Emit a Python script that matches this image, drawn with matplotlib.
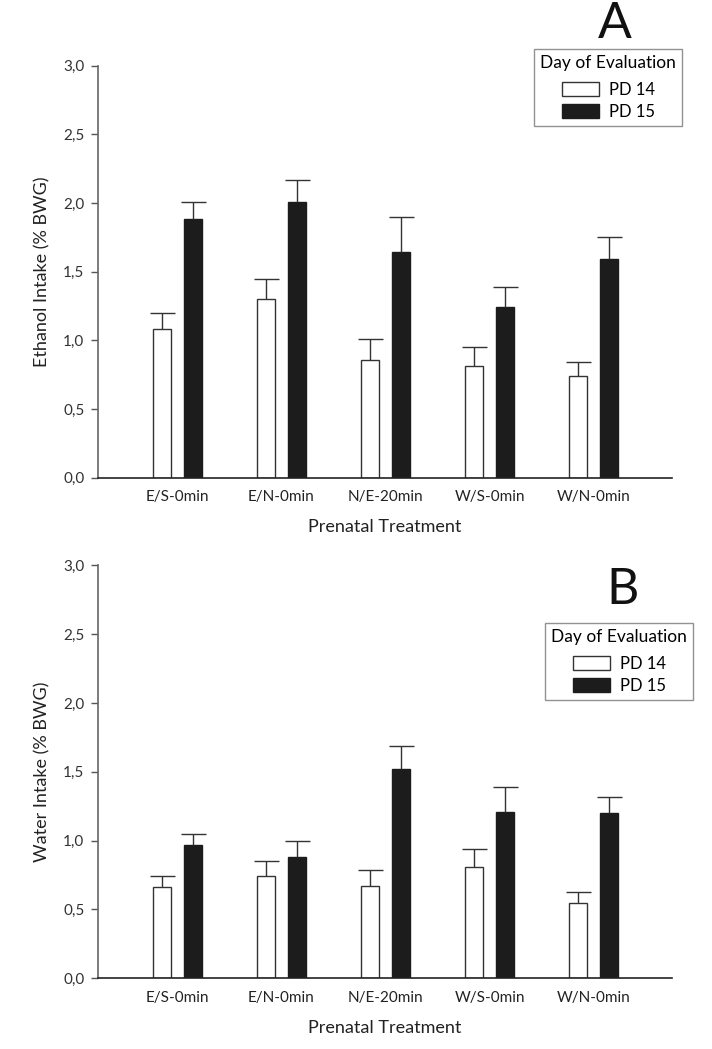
import numpy as np
import matplotlib
matplotlib.use("Agg")
import matplotlib.pyplot as plt
from matplotlib.patches import Patch
from matplotlib.ticker import FuncFormatter

plt.rcParams['font.family'] = ['Lato', 'DejaVu Sans']

groups = ["E/S-0min", "E/N-0min", "N/E-20min", "W/S-0min", "W/N-0min"]

# panel A: ethanol intake
eth_pd14 = [1.08, 1.30, 0.86, 0.81, 0.74]
eth_pd14_err = [0.12, 0.15, 0.15, 0.14, 0.10]
eth_pd15 = [1.88, 2.01, 1.64, 1.24, 1.59]
eth_pd15_err = [0.13, 0.16, 0.26, 0.15, 0.16]

# panel B: water intake
wat_pd14 = [0.66, 0.74, 0.67, 0.81, 0.55]
wat_pd14_err = [0.08, 0.11, 0.12, 0.13, 0.08]
wat_pd15 = [0.97, 0.88, 1.52, 1.21, 1.20]
wat_pd15_err = [0.08, 0.12, 0.17, 0.18, 0.12]

yticks = [0.0, 0.5, 1.0, 1.5, 2.0, 2.5, 3.0]


def hide_low_caps(bars, vals):
    # only the upper half of each error bar is shown, drop the cap at the bar top
    for cl in bars.errorbar.lines[1]:
        if np.allclose(cl.get_ydata(), vals):
            cl.set_visible(False)


def draw_panel(ax, v14, e14, v15, e15, ylabel):
    x = np.arange(len(groups))
    w = 0.178
    off = 0.149
    b14 = ax.bar(x - off, v14, w, color="white", edgecolor="#333333", linewidth=1.0,
                 yerr=[np.zeros(len(e14)), e14], capsize=9,
                 error_kw=dict(ecolor="#333333", elinewidth=1.0, capthick=1.0))
    b15 = ax.bar(x + off, v15, w, color="#1c1c1c", edgecolor="#1c1c1c", linewidth=1.0,
                 yerr=[np.zeros(len(e15)), e15], capsize=9,
                 error_kw=dict(ecolor="#333333", elinewidth=1.0, capthick=1.0))
    hide_low_caps(b14, v14)
    hide_low_caps(b15, v15)
    ax.set_xlim(-0.76, 4.75)
    ax.set_ylim(0, 3.0)
    ax.set_yticks(yticks)
    ax.yaxis.set_major_formatter(FuncFormatter(lambda v, p: ("%.1f" % v).replace(".", ",")))
    ax.set_xticks(x)
    ax.set_xticklabels(groups)
    ax.tick_params(axis="x", length=0, pad=9, labelsize=11, colors="#222222")
    ax.tick_params(axis="y", length=5, width=1.0, pad=5, labelsize=11,
                   colors="#555555", labelcolor="#333333", direction="out")
    for s in ["top", "right"]:
        ax.spines[s].set_visible(False)
    ax.spines["left"].set_color("#666666")
    ax.spines["left"].set_linewidth(1.2)
    ax.spines["bottom"].set_color("#222222")
    ax.spines["bottom"].set_linewidth(1.2)
    ax.set_ylabel(ylabel, fontsize=13, color="#222222", labelpad=9)
    ax.set_xlabel("Prenatal Treatment", fontsize=13, color="#222222", labelpad=11)


fig = plt.figure(figsize=(7.12, 10.49), dpi=100)
axA = fig.add_axes([0.138, 0.5446, 0.8053, 0.3928])
axB = fig.add_axes([0.138, 0.0674, 0.8053, 0.3937])

draw_panel(axA, eth_pd14, eth_pd14_err, eth_pd15, eth_pd15_err, "Ethanol Intake (% BWG)")
draw_panel(axB, wat_pd14, wat_pd14_err, wat_pd15, wat_pd15_err, "Water Intake (% BWG)")

handles = [Patch(facecolor="white", edgecolor="#333333", linewidth=1.0, label="PD 14"),
           Patch(facecolor="#1c1c1c", edgecolor="#1c1c1c", label="PD 15")]

for box, letter, lx, ly in [((541, 49, 682, 126), "A", 615, 24),
                            ((552, 623, 693, 699), "B", 623, 590)]:
    x0, y0, x1, y1 = box
    leg = fig.legend(handles=handles, title="Day of Evaluation",
                     loc="upper right",
                     bbox_to_anchor=(x1 / 712, 1 - y0 / 1049),
                     fontsize=12, title_fontsize=12.5, frameon=True,
                     fancybox=False, edgecolor="#777777", borderpad=0.35,
                     handlelength=2.2, handleheight=0.95, labelspacing=0.35,
                     handletextpad=0.6, borderaxespad=0)
    leg._legend_box.sep = 8
    leg.get_frame().set_linewidth(1.0)
    fig.text(lx / 712, 1 - ly / 1049, letter, fontsize=36, ha="center", va="center",
             color="#111111")

fig.savefig("out.png", dpi=100)
